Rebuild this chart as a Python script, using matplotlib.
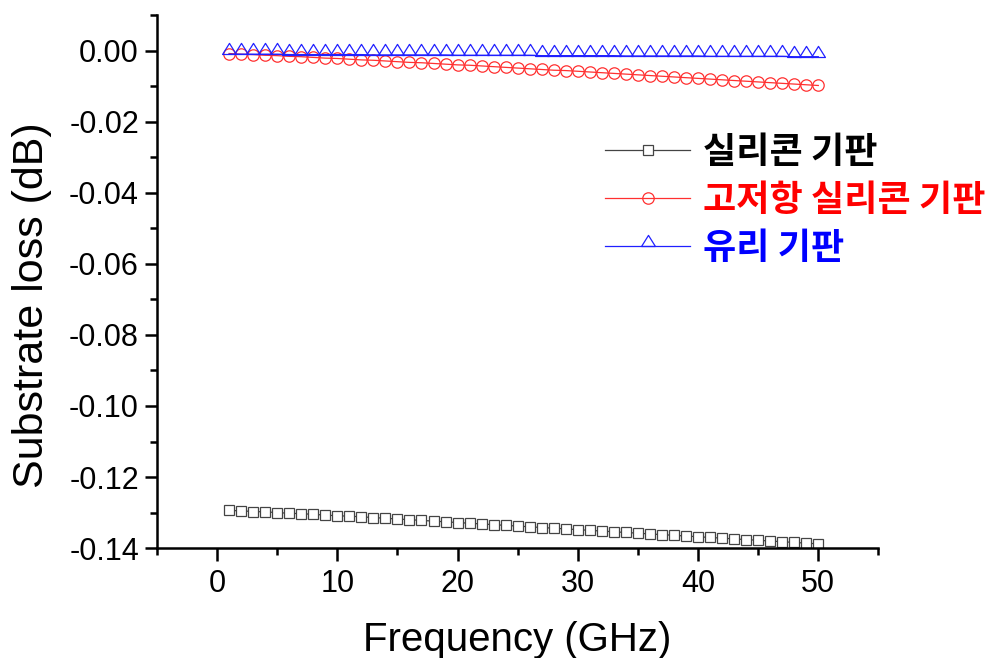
import matplotlib.pyplot as plt
from matplotlib.path import Path
from matplotlib.ticker import MultipleLocator, FormatStrFormatter

# frequency points (GHz)
freq = list(range(1, 51))

# 실리콘 기판
si_loss = [-0.1294, -0.1295, -0.1297, -0.1298, -0.1300, -0.1302, -0.1303, -0.1305, -0.1307, -0.1309,
           -0.1310, -0.1312, -0.1314, -0.1316, -0.1318, -0.1320, -0.1322, -0.1324, -0.1326, -0.1328,
           -0.1330, -0.1332, -0.1334, -0.1336, -0.1338, -0.1340, -0.1342, -0.1344, -0.1346, -0.1348,
           -0.1350, -0.1352, -0.1354, -0.1356, -0.1358, -0.1360, -0.1362, -0.1364, -0.1366, -0.1368,
           -0.1370, -0.1372, -0.1374, -0.1376, -0.1378, -0.1380, -0.1382, -0.1384, -0.1386, -0.1388]

# 고저항 실리콘 기판
hr_si_loss = [-0.0008, -0.0010, -0.0011, -0.0013, -0.0014, -0.0016, -0.0017, -0.0019, -0.0021, -0.0022,
              -0.0024, -0.0026, -0.0027, -0.0029, -0.0031, -0.0033, -0.0034, -0.0036, -0.0038, -0.0040,
              -0.0041, -0.0043, -0.0045, -0.0047, -0.0049, -0.0051, -0.0053, -0.0055, -0.0056, -0.0058,
              -0.0060, -0.0062, -0.0064, -0.0066, -0.0068, -0.0070, -0.0072, -0.0074, -0.0076, -0.0078,
              -0.0080, -0.0082, -0.0084, -0.0086, -0.0088, -0.0090, -0.0092, -0.0094, -0.0096, -0.0098]

# 유리 기판
glass_loss = [-0.0010, -0.0010, -0.0010, -0.0010, -0.0010, -0.0011, -0.0011, -0.0011, -0.0011, -0.0011,
              -0.0011, -0.0011, -0.0012, -0.0012, -0.0012, -0.0012, -0.0012, -0.0012, -0.0012, -0.0013,
              -0.0013, -0.0013, -0.0013, -0.0013, -0.0013, -0.0013, -0.0014, -0.0014, -0.0014, -0.0014,
              -0.0014, -0.0014, -0.0014, -0.0015, -0.0015, -0.0015, -0.0015, -0.0015, -0.0015, -0.0015,
              -0.0016, -0.0016, -0.0016, -0.0016, -0.0016, -0.0016, -0.0016, -0.0017, -0.0017, -0.0017]

labels = ['실리콘 기판', '고저항 실리콘 기판', '유리 기판']
colors = ['#000000', '#ff0000', '#0000ff']

plt.rcParams['font.family'] = ['Liberation Sans', 'DejaVu Sans']

# triangle sitting on the data point (base on the line), like the original
tri = Path([(-1, 0), (1, 0), (0, 1.6), (-1, 0)],
           [Path.MOVETO, Path.LINETO, Path.LINETO, Path.CLOSEPOLY])

fig = plt.figure(figsize=(9.87, 6.58), dpi=100)
ax = fig.add_axes([0.159, 0.167, 0.731, 0.810])

ax.plot(freq, si_loss, color='#444444', lw=0.9, marker='s', ms=7.5,
        mfc='white', mec='#444444', mew=0.9, label=labels[0])
ax.plot(freq, hr_si_loss, color='#ff3030', lw=0.9, marker='o', ms=8.2,
        mfc='none', mec='#ff3030', mew=0.9, label=labels[1])
ax.plot(freq, glass_loss, color='#2020ff', lw=0.9, marker=tri, ms=16,
        mfc='none', mec='#2020ff', mew=0.9, label=labels[2])

ax.set_xlim(-5, 55)
ax.set_ylim(-0.14, 0.01)
ax.xaxis.set_major_locator(MultipleLocator(10))
ax.xaxis.set_minor_locator(MultipleLocator(5))
ax.yaxis.set_major_locator(MultipleLocator(0.02))
ax.yaxis.set_minor_locator(MultipleLocator(0.01))
ax.yaxis.set_major_formatter(FormatStrFormatter('%.2f'))

for s in ['top', 'right']:
    ax.spines[s].set_visible(False)
for s in ['left', 'bottom']:
    ax.spines[s].set_linewidth(1.8)

ax.tick_params(which='major', direction='out', length=9, width=1.8, labelsize=22, pad=6)
ax.tick_params(which='minor', direction='out', length=5, width=1.8)
ax.tick_params(axis='y', which='major', pad=4)

ax.set_xlabel('Frequency (GHz)', fontsize=29, labelpad=16)
ax.set_ylabel('Substrate loss (dB)', fontsize=31)
ax.yaxis.set_label_coords(-0.146, 0.456)

leg = ax.legend(loc='upper left', bbox_to_anchor=(0.621, 0.777), frameon=False,
                prop={'family': ['Noto Sans CJK KR', 'DejaVu Sans'], 'weight': 'bold', 'size': 26},
                handlelength=2.36, handletextpad=0.36, labelspacing=0.30, borderpad=0,
                borderaxespad=0)
for txt, c in zip(leg.get_texts(), colors):
    txt.set_color(c)

fig.savefig('out.png', dpi=100)
